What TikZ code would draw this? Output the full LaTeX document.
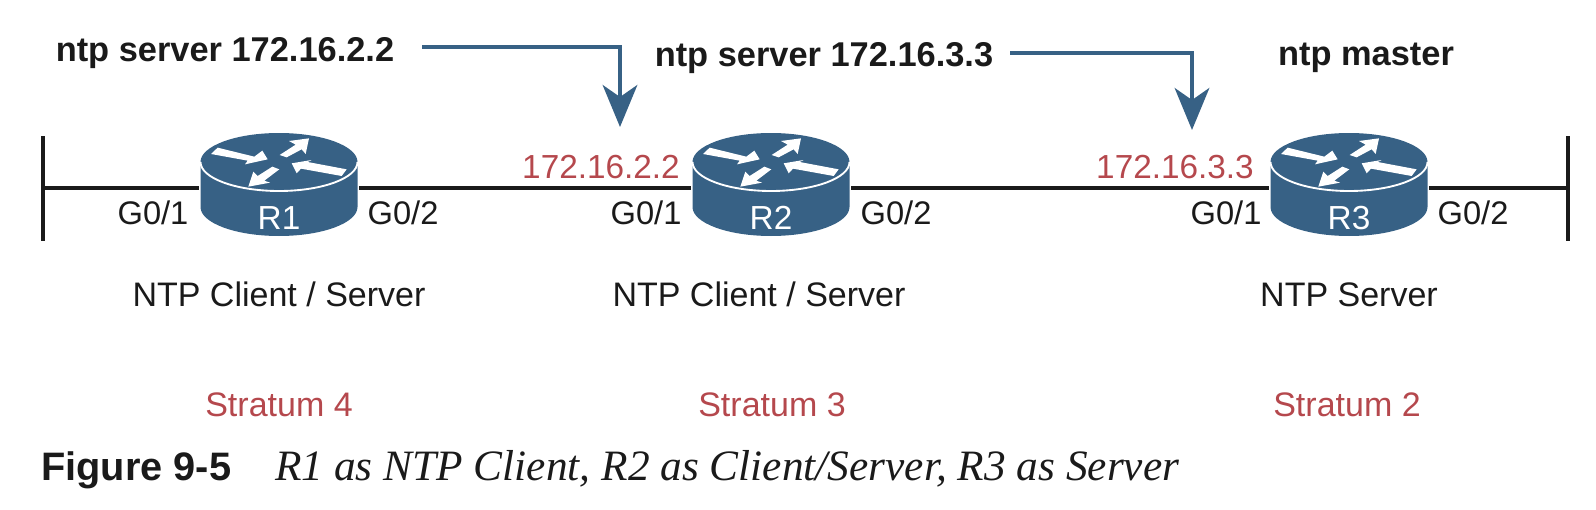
\documentclass[tikz,border=0pt]{standalone}
\usepackage{fontspec}
\setmainfont{Liberation Sans}
\newfontfamily\capserif{Liberation Serif}
\usetikzlibrary{arrows.meta}
\definecolor{rblue}{HTML}{376185}
\definecolor{rred}{HTML}{B5484D}
\definecolor{ink}{HTML}{1A1A1A}
\tikzset{
  x=0.75pt,y=-0.75pt,
  lan/.style={line width=3pt,draw=ink},
  cmdtxt/.style={font=\fontsize{25.8}{30}\selectfont\bfseries,text=ink,inner sep=0pt,anchor=base},
  iftxt/.style={font=\fontsize{24.5}{28}\selectfont,text=ink,inner sep=0pt,anchor=base},
  iptxt/.style={font=\fontsize{25}{30}\selectfont,text=rred,inner sep=0pt,anchor=base},
  roletxt/.style={font=\fontsize{25.5}{30}\selectfont,text=ink,inner sep=0pt,anchor=base},
  stratxt/.style={font=\fontsize{25.5}{30}\selectfont,text=rred,inner sep=0pt,anchor=base},
  cfg/.style={line width=2.6pt,draw=rblue,-{Stealth[length=31.5pt,width=26pt,inset=9pt,fill=rblue]}},
  pics/router/.style={code={
    \fill[rblue] (-78.5,0) arc[start angle=180,end angle=360,x radius=78.5,y radius=29]
      -- (78.5,45) arc[start angle=0,end angle=180,x radius=78.5,y radius=29] -- cycle;
    \draw[white,line width=1.4pt] (-78.5,0) arc[start angle=180,end angle=0,x radius=78.5,y radius=29];
    \begin{scope}[x=0.25pt,y=-0.25pt,shift={(-282,-96)}]
      \fill[white] (98,53) -- (208,80) -- (232,62) -- (248,88) -- (180,103) -- (188,92) -- (78,72) -- cycle;
      \fill[white] (284,75) -- (332,44) -- (312,33) -- (372,25) -- (362,72) -- (350,58) -- (305,82) -- cycle;
      \fill[white] (485,118) -- (368,96) -- (380,90) -- (320,100) -- (335,130) -- (348,116) -- (470,138) -- cycle;
      \fill[white] (262,110) -- (283,118) -- (238,152) -- (255,158) -- (190,170) -- (205,125) -- (218,138) -- cycle;
    \end{scope}
    \coordinate (-w) at (-80,26);
    \coordinate (-e) at (80,26);
    \node[font=\fontsize{25}{29}\selectfont,text=white,inner sep=0pt,anchor=base] (-lbl) at (0,67) {#1};
  }}
}
\begin{document}
\begin{tikzpicture}
\useasboundingbox (0,0) rectangle (1596,510);
\pic (r1) at (279,162) {router=R1};
\pic (r2) at (771,162) {router=R2};
\pic (r3) at (1349,162) {router=R3};
\coordinate (barLt) at (43,136);
\coordinate (barLb) at (43,241);
\coordinate (barRt) at (1568,136);
\coordinate (barRb) at (1568,241);
\coordinate (barL) at (43,188);
\coordinate (barR) at (1568,188);
\draw[lan] (barLt) -- (barLb);
\draw[lan] (barRt) -- (barRb);
\draw[lan] (barL) -- (r1-w);
\draw[lan] (r1-e) -- (r2-w);
\draw[lan] (r2-e) -- (r3-w);
\draw[lan] (r3-e) -- (barR);

\node[cmdtxt] (c1) at (225,62) {ntp server 172.16.2.2};
\node[cmdtxt] (c2) at (824,67) {ntp server 172.16.3.3};
\node[cmdtxt] (c3) at (1366,66) {ntp master};
\coordinate (a1s) at (422,47);
\coordinate (a1c) at (620,47);
\coordinate (a1t) at (620,127);
\coordinate (a2s) at (1010,53);
\coordinate (a2c) at (1192,53);
\coordinate (a2t) at (1192,130);
\draw[cfg] (a1s) -- (a1c) -- (a1t);
\draw[cfg] (a2s) -- (a2c) -- (a2t);

\node[iptxt] (ip2) at (601,178) {172.16.2.2};
\node[iptxt] (ip3) at (1175,178) {172.16.3.3};

\node[iftxt] (i11) at (153,224) {G0/1};
\node[iftxt] (i12) at (403,224) {G0/2};
\node[iftxt] (i21) at (646,224) {G0/1};
\node[iftxt] (i22) at (896,224) {G0/2};
\node[iftxt] (i31) at (1226,224) {G0/1};
\node[iftxt] (i32) at (1473,224) {G0/2};

\node[roletxt] (t1) at (279,306) {NTP Client / Server};
\node[roletxt] (t2) at (759,306) {NTP Client / Server};
\node[roletxt] (t3) at (1349,306) {NTP Server};
\node[stratxt] (s1) at (279,416.5) {Stratum 4};
\node[stratxt] (s2) at (772,416.5) {Stratum 3};
\node[stratxt] (s3) at (1347,416.5) {Stratum 2};

\node[anchor=base west,inner sep=0pt,font=\fontsize{29.8}{34}\selectfont\bfseries,text=ink] (figno) at (41,480) {Figure 9-5};
\node[anchor=base west,inner sep=0pt,font=\capserif\fontsize{32.5}{38}\selectfont\itshape,text=ink] (figcap) at (275,480) {R1 as NTP Client, R2 as Client/Server, R3 as Server};
\end{tikzpicture}
\end{document}
